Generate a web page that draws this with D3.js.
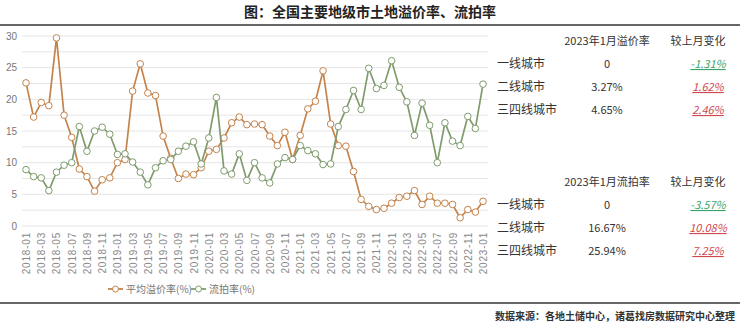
<!DOCTYPE html>
<html>
<head>
<meta charset="utf-8">
<script src="https://cdn.jsdelivr.net/npm/d3@7"></script>
<style>
  body { margin: 0; background: #fff; }
  svg { font-family: "Noto Sans CJK SC", "Noto Sans", sans-serif; }
</style>
</head>
<body>
<div id="chart"></div>
<script>
// months 2018-01 .. 2023-01
const months = [];
for (let yr = 2018; yr <= 2023; yr++) {
  for (let m = 1; m <= 12; m++) {
    if (yr === 2023 && m > 1) break;
    months.push(yr + "-" + String(m).padStart(2, "0"));
  }
}

// 平均溢价率(%)
const premium = [22.6, 17.2, 19.5, 19.0, 29.7, 17.5, 14.0, 9.0, 7.8, 5.5, 7.3, 7.6,
  10.0, 10.5, 21.3, 25.6, 21.0, 20.6, 14.2, 10.7, 7.5, 8.2, 8.1, 9.2,
  11.8, 12.1, 13.9, 16.3, 17.2, 16.0, 16.1, 16.0, 14.2, 12.7, 14.8, 10.5,
  14.3, 18.5, 19.7, 24.5, 16.1, 12.7, 12.6, 8.6, 4.2, 3.1, 2.6, 2.8,
  3.6, 4.5, 4.7, 5.6, 3.4, 4.7, 3.6, 3.6, 3.4, 1.3, 2.6, 2.2, 3.9];

// 流拍率(%)
const failed = [8.9, 7.8, 7.6, 5.6, 8.5, 9.6, 10.0, 15.7, 11.8, 15.0, 15.6, 14.5,
  11.3, 11.4, 10.1, 8.5, 6.5, 9.2, 10.3, 10.5, 11.8, 12.6, 13.3, 9.8,
  13.9, 20.3, 8.7, 8.2, 11.4, 7.2, 10.0, 7.6, 6.8, 9.8, 10.8, 10.5,
  12.7, 11.9, 11.4, 9.7, 9.8, 15.7, 18.4, 21.4, 18.4, 24.9, 21.7, 22.2,
  26.1, 21.9, 19.6, 14.3, 19.4, 15.9, 10.0, 16.3, 13.4, 12.7, 17.3, 15.4, 22.4];

const yTicks = [0, 5, 10, 15, 20, 25, 30];
const gridTicks = d3.range(0, 30.01, 2.5);

const cities = ["一线城市", "二线城市", "三四线城市"];
const premiumNow = ["0", "3.27%", "4.65%"];
const premiumChg = ["-1.31%", "1.62%", "2.46%"];
const failedNow = ["0", "16.67%", "25.94%"];
const failedChg = ["-3.57%", "10.08%", "7.25%"];

const W = 740, H = 326;
const orange = "#c4834c", green = "#7f9c6e";

const svg = d3.select("#chart").append("svg")
  .attr("width", W).attr("height", H);

// title
svg.append("text")
  .attr("x", 370).attr("y", 17)
  .attr("text-anchor", "middle")
  .attr("font-size", 14).attr("font-weight", "bold").attr("fill", "#222")
  .text("图：全国主要地级市土地溢价率、流拍率");
svg.append("line").attr("x1", 0).attr("x2", W).attr("y1", 25).attr("y2", 25)
  .attr("stroke", "#333").attr("stroke-width", 1.5);

// scales
const x = d3.scalePoint().domain(months).range([26, 483]);
const y = d3.scaleLinear().domain([0, 30]).range([226, 36]);

// grid
svg.append("g").selectAll("line").data(gridTicks).join("line")
  .attr("x1", 22).attr("x2", 488)
  .attr("y1", d => y(d)).attr("y2", d => y(d))
  .attr("stroke", "#e6e6e6").attr("stroke-width", 1);

// y axis
const yAxis = svg.append("g").attr("transform", "translate(20,0)")
  .call(d3.axisLeft(y).tickValues(yTicks).tickSize(0).tickPadding(3));
yAxis.select(".domain").remove();
yAxis.selectAll("text").attr("font-size", 10).attr("fill", "#777");

// x axis
const xAxis = svg.append("g").attr("transform", "translate(0,230)")
  .call(d3.axisBottom(x).tickValues(months.filter((d, i) => i % 2 === 0)).tickSize(0));
xAxis.select(".domain").remove();
xAxis.selectAll("text")
  .attr("font-size", 10).attr("fill", "#888")
  .attr("letter-spacing", 0.8)
  .attr("transform", "rotate(-90)")
  .attr("text-anchor", "end")
  .attr("x", -2).attr("y", 0).attr("dy", "0.35em");

function drawSeries(vals, color) {
  const line = d3.line().x((d, i) => x(months[i])).y(d => y(d));
  svg.append("path").datum(vals)
    .attr("d", line).attr("fill", "none")
    .attr("stroke", color).attr("stroke-width", 1.7);
  svg.append("g").selectAll("circle").data(vals).join("circle")
    .attr("cx", (d, i) => x(months[i])).attr("cy", d => y(d))
    .attr("r", 3.3).attr("fill", "#fff")
    .attr("stroke", color).attr("stroke-width", 1);
}
drawSeries(premium, orange);
drawSeries(failed, green);

// legend
const legend = [
  { label: "平均溢价率(%)", color: orange, x: 108 },
  { label: "流拍率(%)", color: green, x: 191 }
];
legend.forEach(l => {
  const g = svg.append("g").attr("transform", `translate(${l.x},289)`);
  g.append("line").attr("x1", 0).attr("x2", 15).attr("stroke", l.color).attr("stroke-width", 1.8);
  g.append("circle").attr("cx", 7.5).attr("r", 3).attr("fill", "#fff").attr("stroke", l.color);
  g.append("text").attr("x", 18).attr("dy", "0.35em")
    .attr("font-size", 10).attr("fill", "#777").text(l.label);
});

// bottom rule and source
svg.append("line").attr("x1", 0).attr("x2", W).attr("y1", 303).attr("y2", 303)
  .attr("stroke", "#333").attr("stroke-width", 1.5);
svg.append("text").attr("x", 735).attr("y", 320)
  .attr("text-anchor", "end").attr("font-size", 10).attr("font-weight", "bold").attr("fill", "#333")
  .text("数据来源：各地土储中心，诸葛找房数据研究中心整理");

// right-hand tables
function drawTable(top, header, nowVals, chgVals) {
  const g = svg.append("g").attr("font-size", 11).attr("fill", "#333");
  g.append("text").attr("x", 607).attr("y", top).attr("text-anchor", "middle").text(header);
  g.append("text").attr("x", 698).attr("y", top).attr("text-anchor", "middle").text("较上月变化");
  cities.forEach((c, i) => {
    const yy = top + 23 * (i + 1);
    g.append("text").attr("x", 497).attr("y", yy).attr("font-size", 12).text(c);
    g.append("text").attr("x", 607).attr("y", yy).attr("text-anchor", "middle").text(nowVals[i]);
    const neg = chgVals[i].startsWith("-");
    g.append("text").attr("x", 708).attr("y", yy).attr("text-anchor", "middle")
      .attr("font-style", "italic").attr("text-decoration", "underline")
      .attr("fill", neg ? "#3aa56a" : "#d0484e").text(chgVals[i]);
  });
}
drawTable(45, "2023年1月溢价率", premiumNow, premiumChg);
drawTable(186, "2023年1月流拍率", failedNow, failedChg);
</script>
</body>
</html>
